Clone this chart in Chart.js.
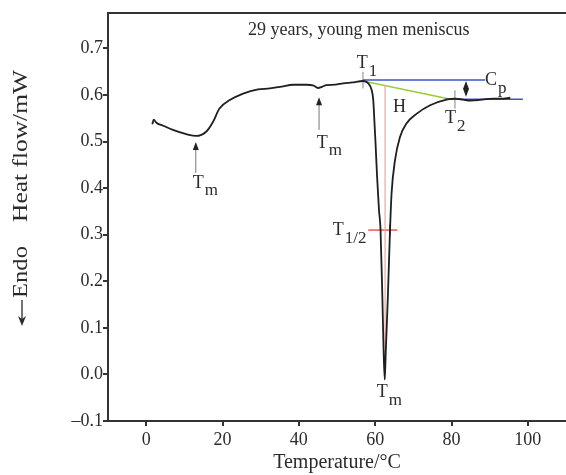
<!DOCTYPE html>
<html>
<head>
<meta charset="utf-8">
<script src="https://cdn.jsdelivr.net/npm/chart.js@4.4.0/dist/chart.umd.min.js"></script>
<style>
  html, body { margin: 0; padding: 0; background: #fff; }
</style>
</head>
<body>
<canvas id="dsc" width="566" height="475"></canvas>
<script>
// DSC trace: temperature (°C) and heat flow (mW)
const temperature = [1.6, 2.0, 2.6, 4.5, 7.0, 10.5, 13.1, 15.7, 17.5, 19.2,
  21.9, 25.4, 29.3, 32.4, 35.5, 38.5, 42.0, 43.9, 45.0, 46.2,
  47.2, 49.5, 51.6, 54.0, 56.8, 58.2, 59.1, 59.5, 59.7, 60.1,
  60.5, 61.0, 61.4, 61.9, 62.2, 62.5, 62.8, 63.3, 63.9, 64.3,
  65.2, 66.5, 68.2, 70.9, 74.4, 78.7, 81.0, 83.0, 85.0, 87.0,
  89.0, 91.0, 93.0, 95.4];
const heatFlow = [0.537, 0.547, 0.541, 0.534, 0.525, 0.516, 0.512, 0.521, 0.542, 0.571,
  0.589, 0.603, 0.612, 0.614, 0.618, 0.622, 0.622, 0.620, 0.615, 0.618,
  0.621, 0.622, 0.625, 0.627, 0.630, 0.625, 0.610, 0.589, 0.560, 0.496,
  0.425, 0.353, 0.312, 0.161, 0.054, -0.011, 0.054, 0.161, 0.312, 0.389,
  0.460, 0.510, 0.539, 0.560, 0.578, 0.590, 0.592, 0.590, 0.588, 0.589,
  0.591, 0.592, 0.592, 0.594];

const xTicks = [0, 20, 40, 60, 80, 100];
const yTicks = [-0.1, 0.0, 0.1, 0.2, 0.3, 0.4, 0.5, 0.6, 0.7];

// construction lines (x, y pairs)
const cpUpper = [[56.8, 0.632], [88.8, 0.632]];
const cpLower = [[78.3, 0.591], [98.7, 0.591]];
const baseline = [[56.8, 0.630], [79.8, 0.591]];
const peakLine = [[62.6, 0.622], [62.6, -0.010]];
const halfWidth = [[58.2, 0.310], [65.8, 0.310]];
const halfTickL = [[61.4, 0.322], [61.4, 0.298]];
const halfTickR = [[63.9, 0.322], [63.9, 0.298]];
const t1Tick = [[56.8, 0.650], [56.8, 0.614]];
const t2Tick = [[80.9, 0.610], [80.9, 0.571]];

// arrows: x, tail y, head y
const tmArrows = [[13.0, 0.433, 0.499], [45.3, 0.525, 0.595]];
const cpArrow = [83.8, 0.596, 0.630];

// labels: main text, subscript, left x, centre y
const labels = [
  ['T', '1', 55.2, 0.668],
  ['C', 'p', 88.8, 0.632],
  ['H', '', 64.7, 0.574],
  ['T', '2', 78.3, 0.550],
  ['T', '1/2', 48.9, 0.310],
  ['T', 'm', 60.4, -0.039],
  ['T', 'm', 12.2, 0.411],
  ['T', 'm', 44.7, 0.497]
];
const title = '29 years, young men meniscus';

const FONT = '"Liberation Serif", "DejaVu Serif", serif';
const INK = '#2b2b2b';

const pts = arr => arr.map(p => ({ x: p[0], y: p[1] }));
const seg = (data, color, width) => ({
  data: pts(data), borderColor: color, borderWidth: width,
  pointRadius: 0, fill: false, tension: 0
});

const annotate = {
  id: 'annotate',
  afterDatasetsDraw(chart) {
    const { ctx, chartArea: a, scales: { x, y } } = chart;
    ctx.save();
    // top frame line
    ctx.strokeStyle = '#333';
    ctx.lineWidth = 2;
    ctx.beginPath();
    ctx.moveTo(a.left, a.top);
    ctx.lineTo(a.right, a.top);
    ctx.stroke();

    // arrows
    const head = (px, py, dir) => {
      ctx.beginPath();
      ctx.moveTo(px, py);
      ctx.lineTo(px - 3, py + dir * 8);
      ctx.lineTo(px + 3, py + dir * 8);
      ctx.closePath();
      ctx.fill();
    };
    ctx.strokeStyle = '#777';
    ctx.fillStyle = '#222';
    ctx.lineWidth = 1;
    tmArrows.forEach(([tx, y0, y1]) => {
      const px = x.getPixelForValue(tx);
      ctx.beginPath();
      ctx.moveTo(px, y.getPixelForValue(y0));
      ctx.lineTo(px, y.getPixelForValue(y1) + 6);
      ctx.stroke();
      head(px, y.getPixelForValue(y1), 1);
    });
    {
      const px = x.getPixelForValue(cpArrow[0]);
      const pb = y.getPixelForValue(cpArrow[1]);
      const pt = y.getPixelForValue(cpArrow[2]);
      ctx.strokeStyle = '#222';
      ctx.beginPath();
      ctx.moveTo(px, pb - 4);
      ctx.lineTo(px, pt + 4);
      ctx.stroke();
      head(px, pt, 1);
      head(px, pb, -1);
    }

    // texts
    ctx.fillStyle = INK;
    ctx.textBaseline = 'middle';
    ctx.textAlign = 'center';
    ctx.font = '18px ' + FONT;
    ctx.fillText(title, x.getPixelForValue(55.7), y.getPixelForValue(0.739));
    ctx.textAlign = 'left';
    labels.forEach(([main, sub, lx, ly]) => {
      const px = x.getPixelForValue(lx);
      const py = y.getPixelForValue(ly);
      ctx.font = '18px ' + FONT;
      ctx.fillText(main, px, py);
      if (sub) {
        const w = ctx.measureText(main).width;
        ctx.font = '17px ' + FONT;
        ctx.fillText(sub, px + w + 1, py + 8);
      }
    });

    // y axis title, stretched along its length like the original
    const vText = (txt, cx, cy, len) => {
      ctx.save();
      ctx.translate(cx, cy);
      ctx.rotate(-Math.PI / 2);
      ctx.font = '20px ' + FONT;
      const w = ctx.measureText(txt).width;
      ctx.scale(len / w, 1);
      ctx.textAlign = 'center';
      ctx.fillText(txt, 0, 0);
      ctx.restore();
    };
    vText('Heat flow/mW', 22, 146, 152);
    vText('Endo', 22, 272, 52);
    // the "←" in front of Endo, pointing down the page
    ctx.strokeStyle = INK;
    ctx.fillStyle = INK;
    ctx.lineWidth = 1.3;
    ctx.beginPath();
    ctx.moveTo(22, 300);
    ctx.lineTo(22, 320);
    ctx.stroke();
    ctx.beginPath();
    ctx.moveTo(22, 326);
    ctx.lineTo(18, 316);
    ctx.lineTo(22, 319);
    ctx.lineTo(26, 316);
    ctx.closePath();
    ctx.fill();
    ctx.restore();
  }
};

new Chart(document.getElementById('dsc'), {
  type: 'line',
  data: {
    datasets: [
      {
        data: temperature.map((t, i) => ({ x: t, y: heatFlow[i] })),
        borderColor: '#1f1f1f', borderWidth: 1.8, pointRadius: 0, fill: false,
        cubicInterpolationMode: 'monotone'
      },
      seg(peakLine, '#f3a3a3', 1.2),
      seg(cpUpper, '#3a55c8', 1.5),
      seg(cpLower, '#3a55c8', 1.5),
      seg(baseline, '#9ccc35', 1.5),
      seg(halfWidth, '#e52b2b', 1.2),
      seg(halfTickL, '#e52b2b', 1),
      seg(halfTickR, '#e52b2b', 1),
      seg(t1Tick, '#999', 1.2),
      seg(t2Tick, '#999', 1.2)
    ]
  },
  options: {
    responsive: false,
    animation: false,
    devicePixelRatio: 1,
    layout: { padding: { top: 13, right: 0, left: 0, bottom: 0 } },
    plugins: { legend: { display: false }, tooltip: { enabled: false } },
    scales: {
      x: {
        type: 'linear', min: -10, max: 110,
        afterBuildTicks: s => { s.ticks = xTicks.map(v => ({ value: v })); },
        afterFit: s => { s.height = 54; },
        grid: { drawOnChartArea: false, drawTicks: true, tickLength: 5, color: '#333', lineWidth: 2 },
        border: { display: true, color: '#333', width: 2 },
        ticks: { font: { family: FONT, size: 18 }, color: INK, padding: 3, maxRotation: 0 },
        title: { display: true, text: 'Temperature/\u00b0C', font: { family: FONT, size: 20 }, color: INK, padding: { top: -4, bottom: 0 } }
      },
      y: {
        type: 'linear', min: -0.1, max: 0.776,
        afterBuildTicks: s => { s.ticks = yTicks.map(v => ({ value: v })); },
        afterFit: s => { s.width = 108; },
        grid: { drawOnChartArea: false, drawTicks: true, tickLength: 5, color: '#333', lineWidth: 2 },
        border: { display: true, color: '#333', width: 2 },
        ticks: {
          font: { family: FONT, size: 18 }, color: INK, padding: 0,
          callback: v => v < 0 ? '\u2013' + Math.abs(v).toFixed(1) : v.toFixed(1)
        }
      }
    }
  },
  plugins: [annotate]
});
</script>
</body>
</html>
